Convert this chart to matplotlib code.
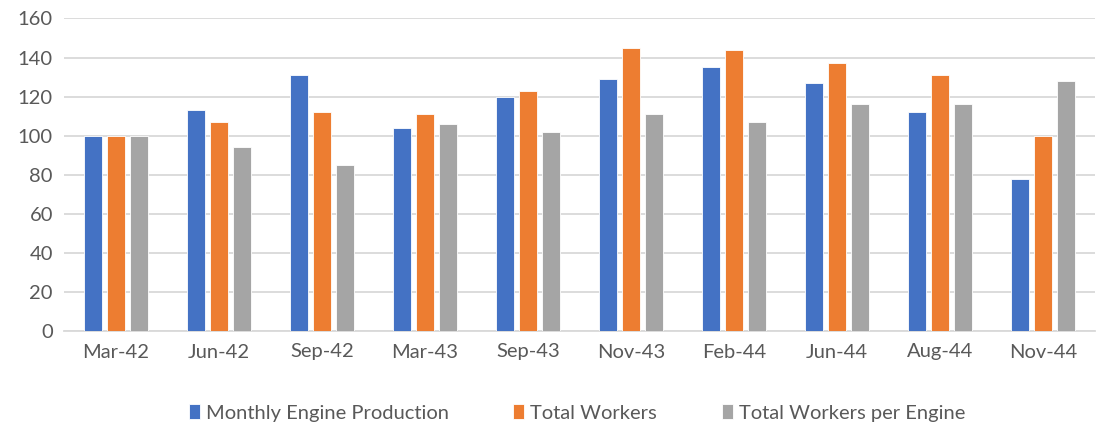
import numpy as np
import matplotlib
matplotlib.use("Agg")
import matplotlib.pyplot as plt

categories = ["Mar-42", "Jun-42", "Sep-42", "Mar-43", "Sep-43",
              "Nov-43", "Feb-44", "Jun-44", "Aug-44", "Nov-44"]
engine_production = [100, 113, 131, 104, 120, 129, 135, 127, 112, 78]
total_workers = [100, 107, 112, 111, 123, 145, 144, 137, 131, 100]
workers_per_engine = [100, 94, 85, 106, 102, 111, 107, 116, 116, 128]

series = [
    ("Monthly Engine Production", engine_production, "#4472c4"),
    ("Total Workers", total_workers, "#ed7d31"),
    ("Total Workers per Engine", workers_per_engine, "#a5a5a5"),
]

plt.rcParams["font.family"] = ["Lato", "DejaVu Sans"]
text_color = "#595959"

fig = plt.figure(figsize=(11.02, 4.29), dpi=100)
ax = fig.add_axes([64 / 1102, 1 - 331 / 429, (1095 - 64) / 1102, (331 - 18.5) / 429])

x = np.arange(len(categories))
width = 0.175
step = 0.223
for i, (name, vals, color) in enumerate(series):
    ax.bar(x + (i - 1) * step, vals, width, color=color, label=name,
           edgecolor="white", linewidth=0.6, zorder=3)

ax.set_xlim(-0.5, len(categories) - 0.5)
ax.set_ylim(0, 160)
ax.set_yticks(range(0, 161, 20))
ax.set_xticks(x)
ax.set_xticklabels(categories)
ax.yaxis.grid(True, color="#d9d9d9", linewidth=1.3, zorder=0)
ax.tick_params(axis="both", length=0, colors=text_color, labelsize=14.5)
ax.tick_params(axis="x", pad=9)
ax.tick_params(axis="y", pad=8)
for side in ["top", "right", "left"]:
    ax.spines[side].set_visible(False)
ax.spines["bottom"].set_color("#d9d9d9")
ax.spines["bottom"].set_linewidth(1.3)

leg = fig.legend(loc="center", bbox_to_anchor=(577 / 1102, 1 - 413 / 429), ncol=3,
                 frameon=False, fontsize=14.5, handlelength=0.55, handleheight=0.75,
                 handletextpad=0.3, columnspacing=3.2)
for t in leg.get_texts():
    t.set_color(text_color)

fig.savefig("out.png", dpi=100)
